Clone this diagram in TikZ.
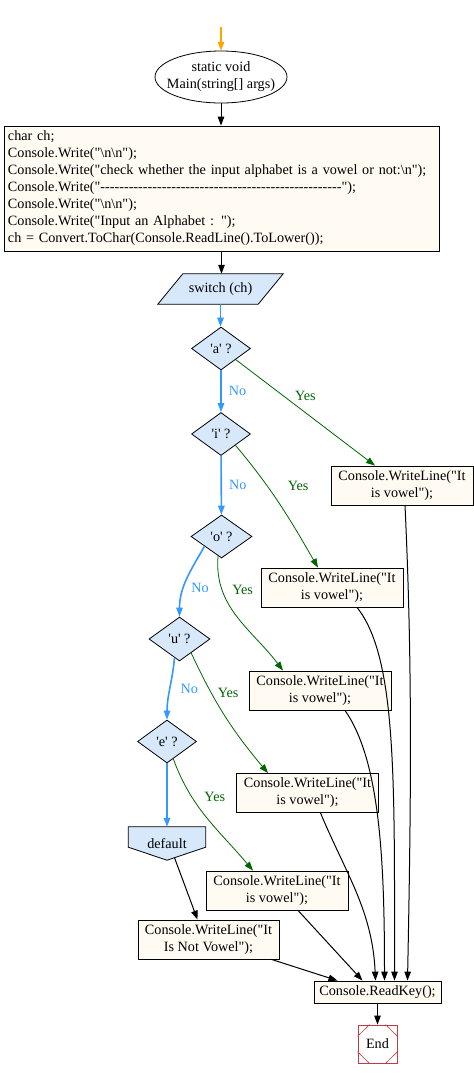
\documentclass[tikz,border=0pt]{standalone}
\usepackage{fontspec}
\setmainfont{Liberation Serif}[Ligatures=TeXOff]
\usetikzlibrary{shapes.geometric,arrows.meta,calc,backgrounds}
\definecolor{boxfill}{RGB}{255,250,242}
\definecolor{decfill}{RGB}{214,232,250}
\definecolor{noblue}{RGB}{51,153,255}
\definecolor{yesgreen}{RGB}{0,100,0}
\definecolor{endred}{RGB}{190,60,70}
\definecolor{startorange}{RGB}{255,165,0}
\begin{document}
\begin{tikzpicture}[x=1pt,y=1pt,font=\fontsize{14.2}{17}\selectfont,
  >={Triangle[length=9pt,width=6.5pt]},
  stmt/.style={draw,fill=boxfill,line width=.8pt,align=center,inner sep=0pt,minimum width=142pt,minimum height=39pt},
  decide/.style={diamond,draw,fill=decfill,line width=.8pt,inner sep=0pt,minimum width=59pt,minimum height=43pt},
  flow/.style={->,line width=1pt},
  noline/.style={->,draw=noblue,line width=1.6pt},
  yesline/.style={->,draw=yesgreen,line width=.8pt},
  nolbl/.style={text=noblue,inner sep=1pt},
  yeslbl/.style={text=yesgreen,inner sep=1pt}]
\useasboundingbox (0,0) rectangle (474,-1077);
% nodes
\coordinate (top) at (221,-27);
\node[align=center,inner sep=0pt,minimum width=132pt,minimum height=52pt] (main) at (221,-77) {static void\\Main(string[] args)};
\begin{scope}[on background layer]
\draw[fill=white,line width=.8pt] (main.center) ellipse [x radius=66, y radius=26];
\end{scope}
\node[draw,fill=boxfill,line width=.8pt,text width=427pt,align=left,inner xsep=4pt,inner ysep=3pt,minimum height=125pt] (init) at (221.5,-188.5)
 {char ch;\\
  Console.Write("\textbackslash n\textbackslash n");\\
  Console.Write("check whether the input alphabet is a vowel or not:\textbackslash n");\\
  Console.Write("---------------------------------------------------");\\
  Console.Write("\textbackslash n\textbackslash n");\\
  Console.Write("Input an Alphabet : ");\\
  ch = Convert.ToChar(Console.ReadLine().ToLower());};
\node[inner sep=0pt,minimum width=100pt,minimum height=30pt] (sw) at (220.5,-289) {switch (ch)};
\begin{scope}[on background layer]
\draw[fill=decfill,line width=.8pt] ([xshift=-12.5pt]sw.south west) -- ([xshift=12.5pt]sw.north west)
  -- ([xshift=12.5pt]sw.north east) -- ([xshift=-12.5pt]sw.south east) -- cycle;
\end{scope}
\node[decide] (da) at (221,-348.5) {'a' ?};
\node[decide] (di) at (221,-434) {'i' ?};
\node[decide,minimum width=61pt] (dob) at (221.5,-536.5) {'o' ?};
\node[decide,minimum width=61pt,minimum height=44pt] (du) at (179.5,-639) {'u' ?};
\node[decide] (de) at (167,-741.5) {'e' ?};
\node[minimum width=77pt,minimum height=33pt,inner sep=0pt] (dflt) at (167,-843.5) {default};
\begin{scope}[on background layer]
\draw[fill=decfill,line width=.8pt] (dflt.north west) -- (dflt.north east) -- ([yshift=13pt]dflt.south east)
  -- (dflt.south) -- ([yshift=13pt]dflt.south west) -- cycle;
\end{scope}
\node[stmt] (wa) at (402,-485.5) {Console.WriteLine("It\\is vowel");};
\node[stmt] (wi) at (332,-587.5) {Console.WriteLine("It\\is vowel");};
\node[stmt] (wo) at (320,-690.5) {Console.WriteLine("It\\is vowel");};
\node[stmt] (wu) at (307.5,-793) {Console.WriteLine("It\\is vowel");};
\node[stmt] (we) at (277,-890.5) {Console.WriteLine("It\\is vowel");};
\node[stmt,minimum width=141pt] (wn) at (208.5,-939.5) {Console.WriteLine("It\\Is Not Vowel");};
\node[draw,fill=boxfill,line width=.8pt,inner sep=0pt,minimum width=127pt,minimum height=22pt] (rk) at (377.5,-992) {Console.ReadKey();};
\node[draw=endred,line width=.8pt,inner sep=0pt,minimum width=39pt,minimum height=38pt] (fin) at (377.5,-1044) {End};
\draw[endred,line width=.6pt]
  ($(fin.north west)!.3!(fin.north east)$) -- ($(fin.north west)!.3!(fin.south west)$)
  ($(fin.north east)!.3!(fin.north west)$) -- ($(fin.north east)!.3!(fin.south east)$)
  ($(fin.south west)!.3!(fin.south east)$) -- ($(fin.south west)!.3!(fin.north west)$)
  ($(fin.south east)!.3!(fin.south west)$) -- ($(fin.south east)!.3!(fin.north east)$);
% edges
\draw[flow,draw=startorange,line width=1.6pt] (top) -- (main);
\draw[flow] (main.south) -- (main.south |- init.north);
\draw[flow] (init.south) -- (init.south |- sw.north);
\draw[noline] (sw.south) -- (sw.south |- da.north);
\draw[noline] (da) -- node[nolbl,right=6pt]{No} (di);
\draw[yesline] (da.-37) -- node[yeslbl,pos=.5,above=11pt]{Yes} ([xshift=-27pt]wa.north);
\draw[noline] (di) -- node[nolbl,right=6pt]{No} (dob);
\draw[yesline] (di.-38) to[out=-50,in=120] node[yeslbl,pos=.34,right=19pt]{Yes} ([xshift=-14pt]wi.north);
\draw[noline] (dob.-150) to[out=-120,in=90] node[nolbl,pos=.62,right=6pt]{No} (du.north);
\draw[yesline] (dob.-100) to[out=-95,in=127] node[yeslbl,pos=.25,right=9pt]{Yes} ([xshift=-37pt]wo.north);
\draw[noline] (du.-105) to[out=-95,in=90] node[nolbl,pos=.5,right=9pt]{No} (de.north);
\draw[yesline] (du.-50) to[out=-65,in=130] node[yeslbl,pos=.3,right=5pt]{Yes} ([xshift=-39.5pt]wu.north);
\draw[noline] (de.south) -- (dflt.north);
\draw[yesline] (de.-70) to[out=-70,in=130] node[yeslbl,pos=.3,right=11pt]{Yes} ([xshift=-24pt]we.north);
\draw[flow] ([xshift=7.5pt,yshift=2.5pt]dflt.south) -- ([xshift=-11pt]wn.north);
\draw[flow] ([xshift=63pt]wn.south) -- ([xshift=-40pt]rk.north);
\draw[flow] ([xshift=21pt]we.south) -- ([xshift=-15pt]rk.north);
\draw[flow] ([xshift=13pt]wu.south) .. controls +(25,-60) and +(-3,70) .. ([xshift=-2pt]rk.north);
\draw[flow] ([xshift=25pt]wo.south) .. controls +(35,-50) and +(0,120) .. ([xshift=7pt]rk.north);
\draw[flow] ([xshift=25pt]wi.south) .. controls +(40,-50) and +(0,200) .. ([xshift=17pt]rk.north);
\draw[flow] ([xshift=3pt]wa.south) .. controls +(7,-150) and +(4,200) .. ([xshift=30pt]rk.north);
\draw[flow] (rk) -- (fin);
\end{tikzpicture}
\end{document}
